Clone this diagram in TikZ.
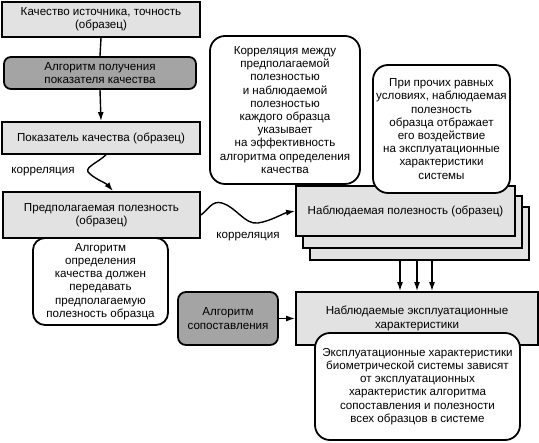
\documentclass[tikz,border=0pt]{standalone}
\usepackage{fontspec}
\setmainfont{Liberation Sans}
\usetikzlibrary{arrows.meta,calc}
\definecolor{lgray}{HTML}{E2E2E2}
\definecolor{dgray}{HTML}{A4A4A4}
\begin{document}
\begin{tikzpicture}[x=1pt,y=-1pt,
 base/.style={draw=black, line width=1.8pt, align=center, inner sep=2pt, font=\fontsize{11.6}{13.2}\selectfont},
 gbox/.style={base, fill=lgray},
 abox/.style={base, fill=dgray, rounded corners=7pt},
 note/.style={base, fill=white, rounded corners=14pt},
 arr/.style={-{Latex[length=9pt,width=6pt]}, line width=1.4pt},
 lbl/.style={font=\fontsize{11.6}{13.2}\selectfont}]
\useasboundingbox (0,0) rectangle (539,443);

% left column
\node[gbox, minimum width=198pt, minimum height=35pt] (b1) at (101,19.5) {Качество источника, точность\\(образец)};
\node[abox, minimum width=192pt, minimum height=32pt] (b2) at (100,73) {Алгоритм получения\\показателя качества};
\node[gbox, minimum width=198pt, minimum height=32pt] (b3) at (101,138) {Показатель качества (образец)};
\node[gbox, minimum width=197pt, minimum height=46pt] (b4) at (101.5,215) {Предполагаемая полезность\\(образец)};
\node[note, minimum width=135pt, minimum height=87pt, rounded corners=12pt] (b5) at (100.5,281.5) {Алгоритм\\определения\\качества должен\\передавать\\предполагаемую\\полезность образца};

\draw[line width=1.4pt] (b1.south) -- (b2.north);
\draw[arr] (b2.south) -- (b3.north);

% observed utility stack
\node[gbox, minimum width=219pt, minimum height=53pt] (obs3) at (419.5,233.5) {};
\node[gbox, minimum width=219pt, minimum height=52pt] (obs2) at (412.5,222) {};
\node[gbox, minimum width=219pt, minimum height=50pt] (obs1) at (405.5,211) {Наблюдаемая полезность (образец)};

% notes at top
\node[note, minimum width=150pt, minimum height=148pt, rounded corners=15pt] (c1) at (285,110) {Корреляция между\\предполагаемой\\полезностью\\и наблюдаемой\\полезностью\\каждого образца\\указывает\\на эффективность\\алгоритма определения\\качества};
\node[note, minimum width=137pt, minimum height=128pt, rounded corners=15pt] (c2) at (441.5,129) {При прочих равных\\условиях, наблюдаемая\\полезность\\образца отбражает\\его воздействие\\на эксплуатационные\\характеристики\\системы};

% bottom
\node[gbox, minimum width=242pt, minimum height=53pt] (perf) at (417,318.5) {Наблюдаемые эксплуатационные\\характеристики};
\node[abox, minimum width=100pt, minimum height=53pt, rounded corners=8pt] (alg) at (228,318.5) {Алгоритм\\сопоставления};
\node[note, minimum width=205pt, minimum height=107pt, rounded corners=15pt] (c3) at (417.5,386.5) {Эксплуатационные характеристики\\биометрической системы зависят\\от эксплуатационных\\характеристик алгоритма\\сопоставления и полезности\\всех образцов в системе};

% connectors
\draw[arr] ([xshift=5pt]b3.south) .. controls (96,164) and (82,168) .. (90,174) .. controls (97,180) and (106,183) .. ([xshift=11.5pt]b4.north);
\node[lbl] (l1) at (43,172) {корреляция};

\draw[arr] (b4.east) .. controls (208,210) and (212,200) .. (222,203) .. controls (236,207) and (245,225) .. (258,223) .. controls (271,221) and (284,213) .. (obs1.west);
\node[lbl] (l2) at (248,237) {корреляция};

\draw[arr] ([xshift=-19.5pt]obs3.south) -- ([xshift=-17pt]perf.north);
\draw[arr] ([xshift=-2.5pt]obs3.south) -- ([xshift=0pt]perf.north);
\draw[arr] ([xshift=12.5pt]obs3.south) -- ([xshift=15pt]perf.north);
\draw[arr] (alg.east) -- (perf.west);
\end{tikzpicture}
\end{document}
